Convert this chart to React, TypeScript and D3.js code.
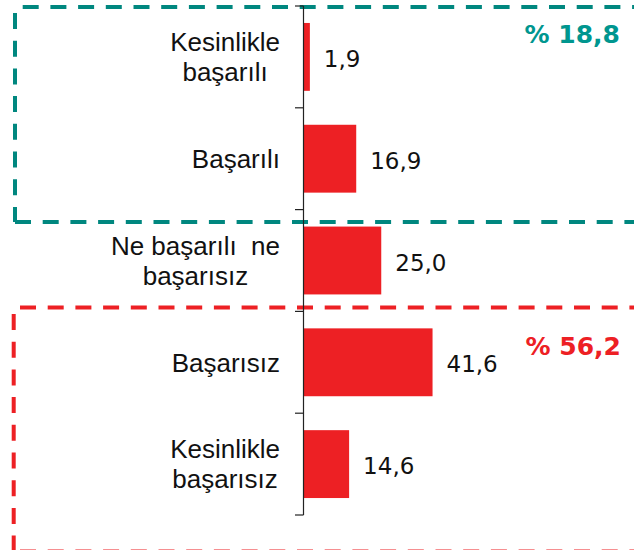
import { useEffect, useRef } from "react";
import * as d3 from "d3";

// survey answers, top to bottom
const categoryLines = [
  ["Kesinlikle", "başarılı"],
  ["Başarılı"],
  ["Ne başarılı  ne", "başarısız"],
  ["Başarısız"],
  ["Kesinlikle", "başarısız"],
];
const values = [1.9, 16.9, 25.0, 41.6, 14.6];
const positiveGroup = [0, 1];
const negativeGroup = [3, 4];

const width = 634;
const height = 550;
const axisX = 304;
const labelRight = 280;

const RED = "#ED2024";
const TEAL_LINE = "#00877F";
const TEAL_TEXT = "#00968F";

const trLocale = d3.formatLocale({ decimal: ",", thousands: ".", grouping: [3], currency: ["", ""] });
const fmt = trLocale.format(".1f");

export default function App() {
  const ref = useRef<SVGSVGElement>(null);

  useEffect(() => {
    const svg = d3.select(ref.current);
    svg.selectAll("*").remove();

    const y = d3.scaleBand<number>()
      .domain(d3.range(values.length))
      .range([6, 515])
      .paddingInner(1 / 3)
      .paddingOuter(1 / 6);

    const x = d3.scaleLinear().domain([0, 100]).range([axisX, axisX + 309]);

    // dashed group boxes (right side runs off the picture)
    const dashed = (d: string, color: string) =>
      svg.append("path")
        .attr("d", d)
        .attr("fill", "none")
        .attr("stroke", color)
        .attr("stroke-width", 4)
        .attr("stroke-dasharray", "16 11.7");

    dashed("M22.7,7H650", TEAL_LINE);
    dashed("M15,13V222", TEAL_LINE);
    dashed("M15,222H650", TEAL_LINE);

    dashed("M20,307.5H650", RED);
    dashed("M13.7,314V570", RED);
    dashed("M20,551.5H650", RED);

    // bars
    svg.append("g")
      .selectAll("rect")
      .data(values)
      .join("rect")
        .attr("x", x(0))
        .attr("y", (d, i) => y(i)!)
        .attr("width", d => x(d) - x(0))
        .attr("height", y.bandwidth())
        .attr("fill", RED);

    // category axis with ticks between bands
    const step = y.step();
    const half = (step * y.paddingInner()) / 2;
    const bounds = d3.range(values.length + 1).map(k =>
      k < values.length ? y(k)! - half : y(values.length - 1)! + y.bandwidth() + half
    );
    const axis = svg.append("g").attr("stroke", "#222").attr("stroke-width", 1.2);
    axis.append("line")
      .attr("x1", axisX - 0.5).attr("x2", axisX - 0.5)
      .attr("y1", bounds[0]).attr("y2", bounds[bounds.length - 1]);
    axis.selectAll("line.tick")
      .data(bounds)
      .join("line")
        .attr("class", "tick")
        .attr("x1", axisX - 9).attr("x2", axisX - 0.5)
        .attr("y1", d => d).attr("y2", d => d);

    // value labels
    svg.append("g")
      .attr("font-family", "'DejaVu Sans', Verdana, sans-serif")
      .attr("font-size", 23)
      .attr("fill", "#111")
      .selectAll("text")
      .data(values)
      .join("text")
        .attr("x", d => x(d) + 14)
        .attr("y", (d, i) => y(i)! + y.bandwidth() / 2 + 10)
        .text(d => fmt(d));

    // category labels: block right aligned, lines centered within block
    const cats = svg.append("g")
      .attr("font-family", "'Liberation Sans', Arial, sans-serif")
      .attr("font-size", 26)
      .attr("fill", "#111");
    categoryLines.forEach((lines, i) => {
      const center = y(i)! + y.bandwidth() / 2;
      const text = cats.append("text")
        .attr("text-anchor", "middle")
        .style("white-space", "pre")
        .attr("y", center + 9.3 - 15 * (lines.length - 1));
      const spans = text.selectAll("tspan")
        .data(lines)
        .join("tspan")
          .attr("dy", (d, k) => (k === 0 ? 0 : 30))
          .text(d => d);
      let maxW = 0;
      spans.each(function () {
        maxW = Math.max(maxW, (this as SVGTSpanElement).getComputedTextLength());
      });
      spans.attr("x", labelRight - maxW / 2);
    });

    // group totals
    const total = (idx: number[]) => "% " + fmt(d3.sum(idx, i => values[i]));
    const notes = svg.append("g")
      .attr("font-family", "'DejaVu Sans', Verdana, sans-serif")
      .attr("font-size", 25)
      .attr("font-weight", "bold")
      .attr("text-anchor", "end");
    notes.append("text").attr("x", 620).attr("y", 43).attr("fill", TEAL_TEXT).text(total(positiveGroup));
    notes.append("text").attr("x", 621).attr("y", 355).attr("fill", RED).text(total(negativeGroup));
  }, []);

  return (
    <svg
      ref={ref}
      width={width}
      height={height}
      style={{ position: "absolute", left: 0, top: 0, background: "#fff" }}
    />
  );
}
